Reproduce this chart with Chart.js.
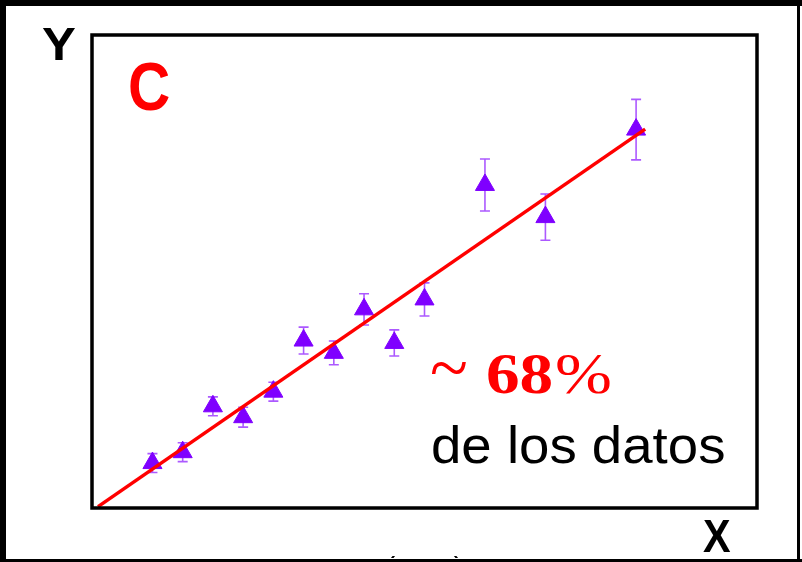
<!DOCTYPE html>
<html>
<head>
<meta charset="utf-8">
<script src="https://cdn.jsdelivr.net/npm/chart.js@4.4.1/dist/chart.umd.min.js"></script>
<style>
    body { margin: 0; background: #fff; }
    canvas { display: block; }
</style>
</head>
<body>
<canvas id="chart" width="802" height="562"></canvas>
<script>
// données
const puntosX = [1, 2, 3, 4, 5, 6, 7, 8, 9, 10, 12, 14, 17];
const puntosY = [9.5, 11.8, 21.5, 19.2, 24.6, 35.4, 32.8, 42.0, 34.9, 44.1, 68.3, 61.5, 80.0];
const errores = [2.0, 2.0, 2.0, 2.1, 2.0, 2.85, 2.5, 3.3, 2.75, 3.5, 5.5, 4.9, 6.4];
const ajusteX = [-0.8, 17.3];
const ajusteY = [0.3, 80.1];

const puntos = puntosX.map((x, i) => ({ x: x, y: puntosY[i] }));
const ajuste = ajusteX.map((x, i) => ({ x: x, y: ajusteY[i] }));

// barres d'erreur, sous les triangles
const errorBars = {
    id: 'errorBars',
    beforeDatasetsDraw(chart) {
        const ctx = chart.ctx;
        const xs = chart.scales.x;
        const ys = chart.scales.y;
        ctx.save();
        ctx.strokeStyle = 'rgba(127, 0, 255, 0.65)';
        ctx.lineWidth = 1.6;
        puntos.forEach((p, i) => {
            const px = xs.getPixelForValue(p.x);
            const top = ys.getPixelForValue(p.y + errores[i]);
            const bot = ys.getPixelForValue(p.y - errores[i]);
            ctx.beginPath();
            ctx.moveTo(px, top);
            ctx.lineTo(px, bot);
            ctx.moveTo(px - 5, top);
            ctx.lineTo(px + 5, top);
            ctx.moveTo(px - 5, bot);
            ctx.lineTo(px + 5, bot);
            ctx.stroke();
        });
        ctx.restore();
    }
};

// petit texte avec étirement horizontal
function texte(ctx, txt, x, y, font, sx) {
    ctx.save();
    ctx.translate(x, y);
    ctx.scale(sx, 1);
    ctx.font = font;
    ctx.fillText(txt, 0, 0);
    ctx.restore();
}

// cadres et textes
const decor = {
    id: 'decor',
    afterDraw(chart) {
        const ctx = chart.ctx;
        const a = chart.chartArea;
        ctx.save();

        // cadre extérieur
        ctx.fillStyle = '#000';
        ctx.fillRect(0, 0, 802, 6);
        ctx.fillRect(0, 0, 6, 562);
        ctx.fillRect(797, 0, 3, 562);
        ctx.fillRect(0, 559, 802, 3);

        // cadre du graphique
        ctx.strokeStyle = '#000';
        ctx.lineWidth = 3.5;
        ctx.strokeRect(a.left, a.top, a.right - a.left, a.bottom - a.top);

        // texte coupé en bas
        ctx.save();
        ctx.beginPath();
        ctx.rect(0, 0, 802, 558);
        ctx.clip();
        ctx.fillStyle = '#000';
        ctx.font = '30px "Liberation Sans"';
        ctx.fillText('y (ut ut)', 362, 578);
        ctx.restore();

        ctx.textBaseline = 'alphabetic';
        ctx.textAlign = 'left';

        ctx.fillStyle = '#000';
        texte(ctx, 'Y', 42, 60, 'bold 47px "Liberation Sans"', 1.08);
        texte(ctx, 'X', 703, 552, 'bold 47px "Liberation Sans"', 0.88);

        ctx.fillStyle = '#ff0000';
        texte(ctx, 'C', 128, 110, 'bold 68px "Liberation Sans"', 0.86);

        ctx.save();
        ctx.translate(430, 392);
        ctx.scale(1.25, 1.3);
        ctx.font = '56px "Liberation Serif"';
        ctx.fillText('~', 0, 0);
        ctx.restore();
        texte(ctx, '68', 486, 393, 'bold 56px "Liberation Serif"', 1.2);
        texte(ctx, '%', 555, 393, '56px "Liberation Serif"', 1.22);

        ctx.fillStyle = '#000';
        texte(ctx, 'de los datos', 431, 463, '52px "Liberation Sans"', 1.05);

        ctx.restore();
    }
};

new Chart(document.getElementById('chart'), {
    type: 'scatter',
    data: {
        datasets: [
            {
                data: ajuste,
                showLine: true,
                borderColor: '#ff0000',
                borderWidth: 3.5,
                pointRadius: 0,
                fill: false,
            },
            {
                data: puntos,
                pointStyle: 'triangle',
                pointRadius: 11,
                backgroundColor: '#7f00ff',
                borderColor: '#7f00ff',
                borderWidth: 1,
            },
        ],
    },
    options: {
        responsive: false,
        animation: false,
        layout: { padding: { left: 92, top: 35, right: 45, bottom: 54 } },
        scales: {
            x: { display: false, min: -1, max: 21 },
            y: { display: false, min: 0, max: 100 },
        },
        plugins: {
            legend: { display: false },
            tooltip: { enabled: false },
        },
    },
    plugins: [errorBars, decor],
});
</script>
</body>
</html>
